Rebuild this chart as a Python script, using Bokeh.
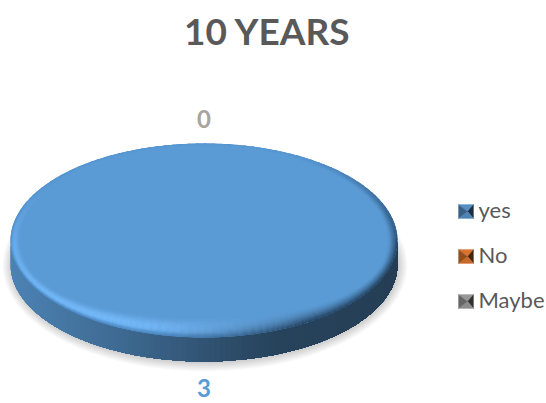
import numpy as np
from bokeh.plotting import figure
from bokeh.models import Range1d
from bokeh.core.properties import value
from bokeh.embed import file_html
from bokeh.resources import INLINE

title = "10 YEARS"
categories = ["yes", "No", "Maybe"]
values = [3, 0, 0]
base_colors = [(91, 155, 213), (237, 125, 49), (165, 165, 165)]

W, H = 546, 403
p = figure(width=W, height=H, x_range=Range1d(0, W), y_range=Range1d(H, 0),
           output_backend="svg", toolbar_location=None, min_border=0)
p.axis.visible = False
p.grid.visible = False
p.outline_line_color = None
p.background_fill_color = "white"
p.border_fill_color = "white"

CX, CY, RX, RY, DEPTH = 203.5, 240.0, 193.5, 97.0, 24.0
FONT = "Lato"


def mix(a, b, t):
    t = float(np.clip(t, 0, 1))
    return tuple(a[i] + (b[i] - a[i]) * t for i in range(3))


def hexc(c):
    return "#%02x%02x%02x" % tuple(int(round(v)) for v in c)


# soft shadow
circle = np.linspace(0, 2 * np.pi, 180)
for k in range(10):
    grow = 9.0 - k
    p.patch(CX + 1 + (RX + grow) * np.cos(circle), CY + DEPTH + 1 + (RY + grow) * np.sin(circle),
            fill_color="#000000", fill_alpha=0.02, line_color=None)

# slices from the values
total = sum(values)
edges = np.cumsum([0] + values) / total * 2 * np.pi - np.pi / 2
side_stops_x = [0.0, 0.25, 0.55, 0.68, 1.0]
side_stops_f = [0.84, 0.70, 0.50, 0.43, 0.40]

for i, v in enumerate(values):
    if v == 0:
        continue
    a0, a1 = edges[i], edges[i + 1]
    base = base_colors[i]
    # side wall: strips painted from the left, each one covering what lies to its right
    n = 110
    th = np.linspace(np.pi, 0, n + 1)
    for j in range(n):
        arc = th[j:]
        xa = CX + RX * np.cos(arc)
        ya = CY + RY * np.sin(arc)
        xs = np.concatenate([xa, xa[::-1]])
        ys = np.concatenate([ya, ya[::-1] + DEPTH])
        pos = (xa[0] - (CX - RX)) / (2 * RX)
        f = np.interp(pos, side_stops_x, side_stops_f)
        p.patch(xs, ys, fill_color=hexc(tuple(c * f for c in base)), line_color=None)

    # top face
    tt = np.linspace(a0, a1, 240)
    p.patch(CX + RX * np.cos(tt), CY + RY * np.sin(tt), fill_color=hexc(base), line_color=None)

    # bevel ring: outer rings first, each overlapping the next
    light = (116, 184, 248)
    dark = (36, 66, 96)
    rings = np.linspace(1.0, 0.0, 19)
    segs = 150
    ang = np.linspace(a0, a1, segs + 1)
    wx, wy = 0.05, 0.2
    for r1, r0 in zip(rings[:-1], rings[1:]):
        rm = (r0 + r1) / 2
        xs, ys, cols = [], [], []
        for j in range(segs):
            t0, t1 = ang[j], ang[j + 1] + 0.012
            tm = (t0 + t1) / 2
            lit = np.cos(tm - np.radians(125))
            drk = np.cos(tm - np.radians(22))
            c = base
            if lit > 0:
                c = mix(c, light, (lit ** 1.1) * np.sin(np.pi * rm ** 1.3))
                c = mix(c, (70, 128, 190), (lit ** 1.3) * max(0, rm - 0.75) * 3.0)
            if drk > 0:
                c = mix(c, dark, min(1, (drk ** 1.6) * 1.4) * rm ** 1.3)
            if np.sin(tm) < 0:
                c = mix(c, (79, 140, 200), 0.5 * rm ** 3 * min(1, -np.sin(tm) * 3 + 0.5))
            if abs(c[0] - base[0]) + abs(c[1] - base[1]) < 2:
                continue
            sx0, sx1 = 1 - wx * (1 - r0) - 0.003, 1 - wx * (1 - r1)
            # the band is deep at the front of the disc, thin at its back
            fy0 = 1 - wy * (1 - r0) * max(0.2, np.sin(tm)) - 0.003
            fy1 = 1 - wy * (1 - r1) * max(0.2, np.sin(tm))
            xs.append([CX + RX * sx0 * np.cos(t0), CX + RX * sx0 * np.cos(t1),
                       CX + RX * sx1 * np.cos(t1), CX + RX * sx1 * np.cos(t0)])
            ys.append([CY + RY * fy0 * np.sin(t0), CY + RY * fy0 * np.sin(t1),
                       CY + RY * fy1 * np.sin(t1), CY + RY * fy1 * np.sin(t0)])
            cols.append(hexc(c))
        p.patches(xs, ys, fill_color=cols, line_color=None)

# title and data labels
p.text([267], [30], text=[title], text_font=value(FONT), text_font_style="bold",
       text_font_size="37px", text_color="#595959", text_align="center", text_baseline="middle")
p.text([203.5], [118], text=[str(values[1])], text_font=value(FONT), text_font_style="bold",
       text_font_size="24px", text_color="#aaa49c", text_align="center", text_baseline="middle")
p.text([203.5], [396], text=[str(values[0])], text_font=value(FONT), text_font_style="bold",
       text_font_size="24px", text_color=hexc(base_colors[0]), text_align="center", text_baseline="bottom")

# legend
for i, name in enumerate(categories):
    yc = 211 + 45 * i
    x0, x1, y0, y1 = 458, 473, yc - 7, yc + 7
    xm, ym = (x0 + x1) / 2 + 1.5, yc
    b = base_colors[i]
    tris_x = [[x0, x1, xm], [x1, x1, xm], [x1, x0, xm], [x0, x0, xm]]
    tris_y = [[y0, y0, ym], [y0, y1, ym], [y1, y1, ym], [y1, y0, ym]]
    fac = [0.92, 0.3, 0.85, 0.62]
    cols = [hexc(tuple(c * f for c in b)) for f in fac]
    p.patches(tris_x, tris_y, fill_color=cols, line_color=cols, line_width=0.3)
    p.text([478], [yc - 2], text=[name], text_font=value(FONT), text_font_size="22px",
           text_color="#595959", text_align="left", text_baseline="middle")

open("out.html", "w").write(file_html(p, INLINE))
